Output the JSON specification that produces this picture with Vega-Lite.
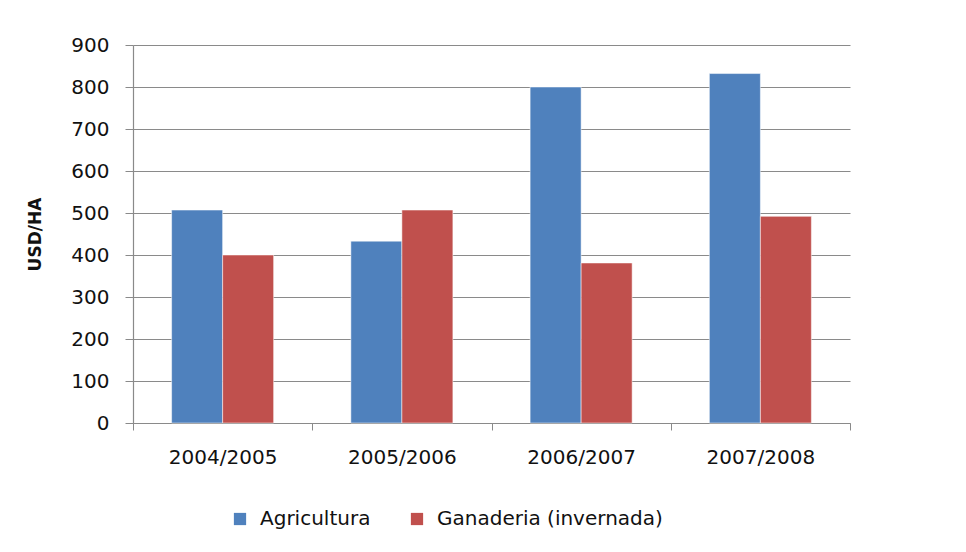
{
  "$schema": "https://vega.github.io/schema/vega-lite/v6.json",
  "autosize": {"type": "none"},
  "width": 717,
  "height": 378,
  "padding": {"left": 133, "top": 45, "right": 116, "bottom": 129},
  "background": "white",
  "config": {
    "view": {"stroke": null},
    "font": "DejaVu Sans",
    "axis": {"labelFont": "DejaVu Sans", "labelFontSize": 20, "labelColor": "#111111", "domainColor": "#8a8a8a", "tickColor": "#8a8a8a", "gridColor": "#8a8a8a", "gridWidth": 1.2}
  },
  "data": {
    "values": [
      {"campaign": "2004/2005", "series": "Agricultura", "value": 507},
      {"campaign": "2004/2005", "series": "Ganaderia (invernada)", "value": 400},
      {"campaign": "2005/2006", "series": "Agricultura", "value": 433},
      {"campaign": "2005/2006", "series": "Ganaderia (invernada)", "value": 507},
      {"campaign": "2006/2007", "series": "Agricultura", "value": 800},
      {"campaign": "2006/2007", "series": "Ganaderia (invernada)", "value": 381},
      {"campaign": "2007/2008", "series": "Agricultura", "value": 832},
      {"campaign": "2007/2008", "series": "Ganaderia (invernada)", "value": 492}
    ]
  },
  "mark": {"type": "bar", "stroke": "white", "strokeOpacity": 0.5, "strokeWidth": 1},
  "encoding": {
    "x": {
      "field": "campaign", "type": "nominal", "sort": null,
      "scale": {"paddingInner": 0, "paddingOuter": 0},
      "axis": {"title": null, "labelAngle": 0, "tickBand": "extent", "tickSize": 7, "labelPadding": 17, "domainWidth": 1.2, "grid": false}
    },
    "xOffset": {"field": "series", "type": "nominal", "sort": null, "scale": {"paddingInner": 0, "paddingOuter": 0.757}},
    "y": {
      "field": "value", "type": "quantitative",
      "scale": {"domain": [0, 900], "nice": false},
      "axis": {"title": "USD/HA", "titleFont": "DejaVu Sans", "titleFontSize": 17, "titleFontWeight": "bold", "titleColor": "#111111", "titlePadding": 26, "values": [0, 100, 200, 300, 400, 500, 600, 700, 800, 900], "tickSize": 8, "labelPadding": 16, "domainWidth": 1.2, "grid": true}
    },
    "color": {
      "field": "series", "type": "nominal", "sort": null,
      "scale": {"domain": ["Agricultura", "Ganaderia (invernada)"], "range": ["#4F81BD", "#C0504D"]},
      "legend": {"title": null, "orient": "none", "direction": "horizontal", "legendX": 97, "legendY": 464, "symbolType": "square", "symbolSize": 150, "symbolStrokeWidth": 0, "labelFont": "DejaVu Sans", "labelFontSize": 20, "labelColor": "#111111", "labelOffset": 10, "labelLimit": 400, "columnPadding": 36, "padding": 0}
    }
  }
}
